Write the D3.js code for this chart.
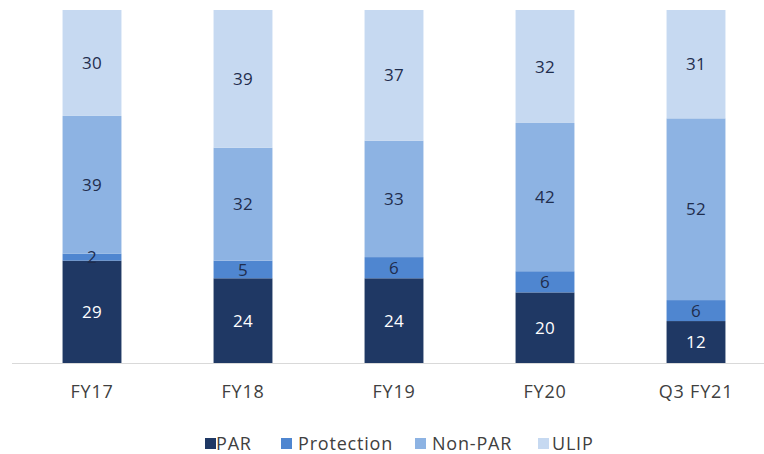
<!DOCTYPE html>
<html><head><meta charset="utf-8">
<script src="https://cdn.jsdelivr.net/npm/d3@7"></script>
<style>body{margin:0;background:#fff}svg{display:block}text{font-family:"Open Sans",Lato,sans-serif}</style>
</head><body><svg id="c" width="764" height="454"></svg>
<script>
const categories = ["FY17","FY18","FY19","FY20","Q3 FY21"];
const seriesNames = ["PAR","Protection","Non-PAR","ULIP"];
const PAR = [29,24,24,20,12];
const Protection = [2,5,6,6,6];
const NonPAR = [39,32,33,42,52];
const ULIP = [30,39,37,32,31];
const colors = ["#1f3864","#4f86d0","#8db3e3","#c6d9f1"];
const labelColors = ["#ffffff","#1f2d4d","#1f2d4d","#1f2d4d"];

const seriesVals = [PAR, Protection, NonPAR, ULIP];
const rows = categories.map((c,i)=>{const o={cat:c};seriesNames.forEach((s,k)=>o[s]=seriesVals[k][i]);return o;});
const stack = d3.stack().keys(seriesNames).offset(d3.stackOffsetExpand)(rows);

const svg = d3.select("#c");
const x = d3.scaleBand().domain(categories).range([16.5, 771.5]).paddingInner(0.61).paddingOuter(0.305);
const y = d3.scaleLinear().domain([0,1]).range([363, 10]);

const barsG = svg.append("g");
const labelsG = svg.append("g");
stack.forEach((layer,k)=>{
  barsG.append("g").selectAll("rect").data(layer).enter().append("rect")
    .attr("x", d=>x(d.data.cat)).attr("width", x.bandwidth())
    .attr("y", d=>y(d[1])).attr("height", d=>y(d[0])-y(d[1]))
    .attr("fill", colors[k]);
  labelsG.append("g").selectAll("text").data(layer).enter().append("text")
    .attr("x", d=>x(d.data.cat)+x.bandwidth()/2)
    .attr("y", d=>(y(d[0])+y(d[1]))/2)
    .attr("dy","0.36em").attr("text-anchor","middle")
    .attr("font-size",17).attr("letter-spacing",0.4).attr("fill",labelColors[k])
    .text(d=>d.data[seriesNames[k]]);
});

svg.append("line").attr("x1",12).attr("x2",764).attr("y1",363.5).attr("y2",363.5)
  .attr("stroke","#d9d9d9").attr("stroke-width",1);

const xAxis = svg.append("g").attr("transform","translate(0,363)")
  .call(d3.axisBottom(x).tickSize(0).tickPadding(22));
xAxis.select(".domain").remove();
xAxis.selectAll("text").attr("font-size",18).attr("letter-spacing",0.8).attr("fill","#404040")
  .style("font-family","'Open Sans',Lato,sans-serif");

const swatchX = [205, 281, 415, 538];
const textX = [216, 298, 432, 552];
const lg = svg.append("g");
seriesNames.forEach((s,k)=>{
  lg.append("rect").attr("x",swatchX[k]).attr("y",438).attr("width",11).attr("height",11).attr("fill",colors[k]);
  lg.append("text").attr("x",textX[k]).attr("y",444).attr("dy","0.36em")
    .attr("font-size",18).attr("letter-spacing",0.8).attr("fill","#404040").text(s);
});
</script></body></html>
